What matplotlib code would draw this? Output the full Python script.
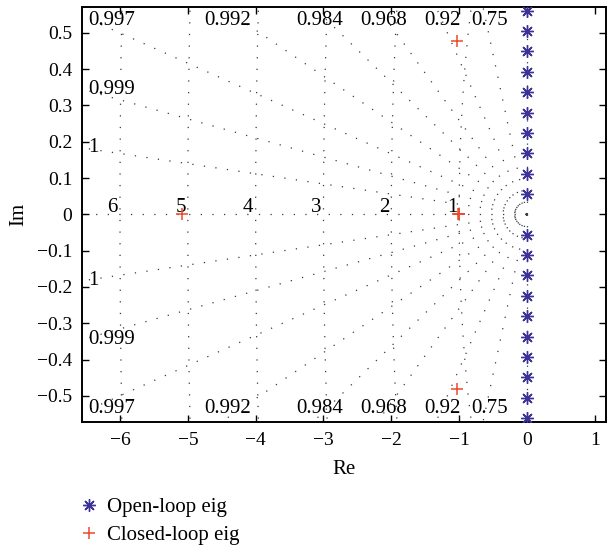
import numpy as np
import matplotlib
matplotlib.use("Agg")
import matplotlib.pyplot as plt
from matplotlib.ticker import FuncFormatter
from matplotlib.lines import Line2D

plt.rcParams['font.family'] = ['Liberation Serif', 'DejaVu Serif']
plt.rcParams['font.size'] = 14

# open-loop eigenvalues (on the imaginary axis)
ol_re = [0.0] * 20
ol_im = [0.0561 * k for k in range(1, 11)] + [-0.0561 * k for k in range(1, 11)]

# closed-loop eigenvalues
cl_re = [-5.08, -1.0, -1.005, -1.01, -1.03, -1.03]
cl_im = [0.0, 0.0, 0.0, 0.0, 0.478, -0.482]

# grid: damping ratios and natural frequencies
zetas = [0.99961, 0.99862, 0.99655, 0.99204, 0.98395, 0.968, 0.92, 0.75]
wns = [1, 2, 3, 4, 5, 6]

xlim = (-6.56, 1.165)
ylim = (-0.572, 0.572)

fig = plt.figure(figsize=(6.09, 5.52), dpi=100)
ax = fig.add_axes([82 / 609, 1 - 422 / 552, 524 / 609, 415.3 / 552])

dot = dict(color='#3a3a3a', lw=0.9, ls=(0, (1, 8.3)), zorder=1)

# natural frequency half circles
th = np.linspace(np.pi / 2, 3 * np.pi / 2, 2000)
for wn in wns:
    ax.plot(wn * np.cos(th), wn * np.sin(th), **dot)
    ax.text(-wn - 0.03, 0.006, str(wn), ha='right', va='baseline', fontsize=15)

# damping lines, starting at the origin
R = 12.0
ax.plot([0, -R], [0, 0], **dot)
ax.plot([0, 0], [0, R], **dot)
ax.plot([0, 0], [0, -R], **dot)
for z in zetas:
    s = np.sqrt(1 - z ** 2) / z
    for sg in (1, -1):
        ax.plot([0, -R], [0, sg * s * R], **dot)
    lab = '%.3g' % z
    y_left = -xlim[0] * s
    if y_left < ylim[1]:
        yy = min(y_left, 0.534)
        for sg in (1, -1):
            ax.text(xlim[0] + 0.085, sg * yy, lab, ha='left', va='center',
                    fontsize=15)
    else:
        xt = -ylim[1] / s + 0.1
        for sg in (1, -1):
            ax.text(xt, sg * 0.534, lab, ha='center', va='center', fontsize=15)

ax.plot(ol_re, ol_im, ls='none', marker=(8, 2, 0), ms=9, mew=1.0,
        color='#3d3396', zorder=3)
ax.plot(cl_re, cl_im, ls='none', marker='+', ms=9, mew=1.1,
        color='#ee4a2c', zorder=3)

ax.set_xlim(*xlim)
ax.set_ylim(*ylim)
ax.set_xticks(range(-6, 2))
ax.set_yticks(np.round(np.arange(-0.5, 0.51, 0.1), 1))


def tick_fmt(v, p):
    v = round(v, 2) + 0.0
    if abs(v) < 1e-9:
        return '0'
    return ('%g' % v).replace('-', '\u2212')


fmt = FuncFormatter(tick_fmt)
ax.xaxis.set_major_formatter(fmt)
ax.yaxis.set_major_formatter(fmt)
ax.tick_params(direction='in', top=True, right=True, length=5, width=1.0,
               labelsize=14, pad=7)
for sp in ax.spines.values():
    sp.set_linewidth(1.4)

ax.set_xlabel('Re', fontsize=15)
ax.set_ylabel('Im', fontsize=15)
ax.xaxis.set_label_coords(0.5, -0.092)
ax.yaxis.set_label_coords(-0.103, 0.5)

handles = [
    Line2D([], [], ls='none', marker=(8, 2, 0), ms=9, mew=1.0, color='#3d3396'),
    Line2D([], [], ls='none', marker='+', ms=9, mew=1.1, color='#ee4a2c'),
]
fig.legend(handles, ['Open-loop eig', 'Closed-loop eig'], loc='upper left',
           bbox_to_anchor=(68 / 609, 1 - 487 / 552), frameon=False,
           fontsize=15, handlelength=1.0, handletextpad=0.35,
           labelspacing=0.42, borderpad=0, numpoints=1)

fig.savefig('out.png', dpi=100)
